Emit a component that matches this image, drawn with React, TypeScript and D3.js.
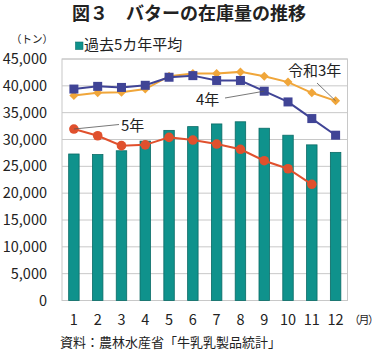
import React from "react";
import * as d3 from "d3";

const months = [1, 2, 3, 4, 5, 6, 7, 8, 9, 10, 11, 12];
const avg5 = [27300, 27200, 27900, 29700, 31700, 32400, 32900, 33300, 32100, 30800, 29000, 27600];
const r3 = [38200, 38700, 38800, 39400, 41800, 42300, 42300, 42600, 41800, 40700, 38700, 37200];
const r4 = [39400, 39900, 39700, 40100, 41600, 41900, 41000, 41000, 39000, 37000, 33900, 30800];
const r5 = [31950, 30700, 28850, 29000, 30400, 29900, 29150, 28170, 26050, 24550, 21650];
const yTicks = [0, 5000, 10000, 15000, 20000, 25000, 30000, 35000, 40000, 45000];

const FONT = "'Noto Sans CJK JP', 'Noto Sans', sans-serif";

export default function App() {
  const W = 380, H = 352;
  const left = 62, right = 347.5, top = 59, bottom = 300.5;
  const x = d3.scaleBand<number>().domain(months).range([left, right]).paddingInner(0).paddingOuter(0);
  const y = d3.scaleLinear().domain([0, 45000]).range([bottom, top]);
  const cx = (m: number) => (x(m) as number) + x.bandwidth() / 2;
  const bw = x.bandwidth() * 0.44;
  const line = d3.line<number>().x((_, i) => cx(months[i])).y((v) => y(v));

  const orange = "#f0a63a";
  const blue = "#404496";
  const red = "#e0502d";
  const teal = "#0f928c";

  return (
    <svg width={W} height={H} style={{ position: "absolute", left: 0, top: 0, fontFamily: FONT }}>
      <rect width={W} height={H} fill="#fff" />
      <text x={189} y={20} textAnchor="middle" fontSize={18} fontWeight="bold" fill="#222">図３　バターの在庫量の推移</text>
      <text x={32} y={43} textAnchor="middle" fontSize={10.5} fill="#222">（トン）</text>
      <rect x={75.5} y={42} width={7.5} height={7.5} fill={teal} stroke="#0b6f6a" strokeWidth={0.6} />
      <text x={84} y={50} fontSize={15} fill="#222">過去5カ年平均</text>

      {yTicks.map((t) => (
        <g key={t}>
          <line x1={left} x2={right} y1={y(t)} y2={y(t)} stroke="#c8c8c8" strokeWidth={1} />
          <text x={47} y={y(t) + 5} textAnchor="end" fontSize={14.5} fill="#222">{d3.format(",")(t)}</text>
        </g>
      ))}
      <rect x={left} y={top} width={right - left} height={bottom - top} fill="none" stroke="#c8c8c8" strokeWidth={1} />

      {avg5.map((v, i) => (
        <rect key={i} x={cx(months[i]) - bw / 2} y={y(v)} width={bw} height={bottom - y(v)} fill={teal} stroke="#0b6b66" strokeWidth={0.8} />
      ))}

      <path d={line(r3) || ""} fill="none" stroke={orange} strokeWidth={2} />
      {r3.map((v, i) => (
        <path key={i} d={`M${cx(months[i])},${y(v) - 4.5}L${cx(months[i]) + 4.5},${y(v)}L${cx(months[i])},${y(v) + 4.5}L${cx(months[i]) - 4.5},${y(v)}Z`} fill={orange} />
      ))}
      <path d={line(r4) || ""} fill="none" stroke={blue} strokeWidth={2} />
      {r4.map((v, i) => (
        <rect key={i} x={cx(months[i]) - 4.5} y={y(v) - 4.5} width={9} height={9} fill={blue} />
      ))}
      <path d={line(r5) || ""} fill="none" stroke={red} strokeWidth={2} />
      {r5.map((v, i) => (
        <circle key={i} cx={cx(months[i])} cy={y(v)} r={4.8} fill={red} />
      ))}

      <line x1={cx(1)} y1={y(r5[0])} x2={119} y2={124.5} stroke="#555" strokeWidth={0.8} />
      <text x={121} y={131} fontSize={15} fill="#222">5年</text>
      <line x1={cx(9)} y1={y(r4[8])} x2={225} y2={98} stroke="#555" strokeWidth={0.8} />
      <text x={196} y={105} fontSize={15} fill="#222">4年</text>
      <line x1={cx(12)} y1={y(r3[11])} x2={317} y2={83} stroke="#555" strokeWidth={0.8} />
      <text x={288} y={76} fontSize={15} fill="#222">令和3年</text>

      {months.map((m) => (
        <text key={m} x={cx(m)} y={325} textAnchor="middle" fontSize={14.5} fill="#222">{m}</text>
      ))}
      <text x={349} y={324} fontSize={11} letterSpacing={-1.5} fill="#222">（月）</text>
      <text x={60} y={347} fontSize={13} fill="#222">資料：農林水産省「牛乳乳製品統計」</text>
    </svg>
  );
}
